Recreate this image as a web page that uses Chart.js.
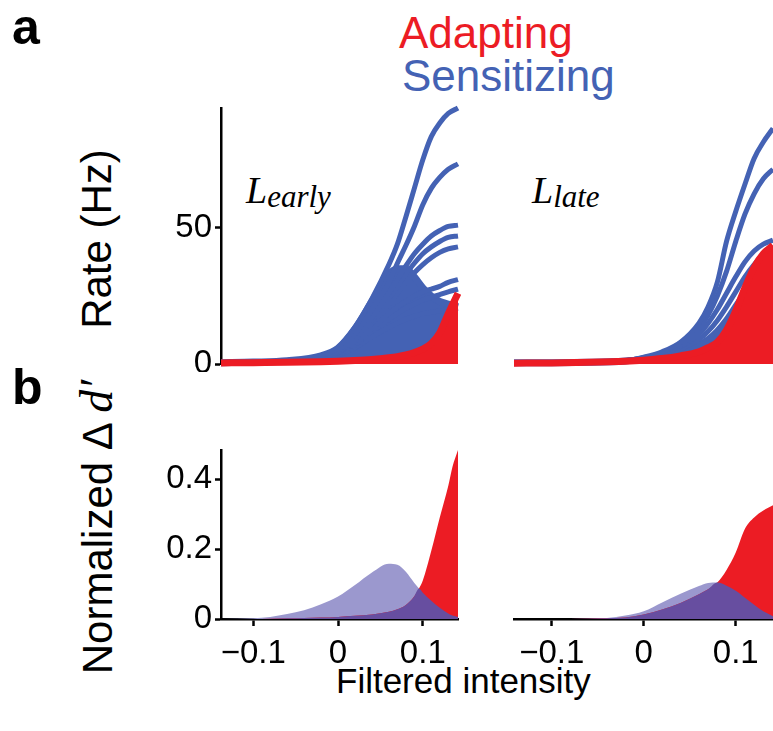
<!DOCTYPE html>
<html>
<head>
<meta charset="utf-8">
<script src="https://cdn.jsdelivr.net/npm/chart.js@4.4.1/dist/chart.umd.min.js"></script>
<style>
  html, body { margin: 0; padding: 0; background: #fff; }
  body { width: 773px; height: 731px; overflow: hidden; position: relative; font-family: 'Liberation Sans', Arial, sans-serif; }
  canvas { position: absolute; }
  .txt { position: absolute; white-space: nowrap; line-height: 1; }
  .rot { position: absolute; white-space: nowrap; line-height: 1; font-size: 42px; transform: translate(-50%, -50%) rotate(-90deg); }
  .serif { font-family: 'Liberation Serif', 'Times New Roman', serif; font-style: italic; }
</style>
</head>
<body>
<div class="txt" style="left:12px;top:2px;font-size:50px;font-weight:bold">a</div>
<div class="txt" style="left:12px;top:362px;font-size:50px;font-weight:bold">b</div>
<div class="txt" style="left:399px;top:11px;font-size:44px;color:#ec1c24">Adapting</div>
<div class="txt" style="left:402px;top:54px;font-size:44px;color:#4462b4">Sensitizing</div>
<div class="rot" style="left:97px;top:239px">Rate (Hz)</div>
<div class="rot" style="left:97px;top:527px">Normalized Δ <span class="serif" style="font-size:46px">d′</span></div>
<div class="txt serif" style="left:246px;top:171px;font-size:38px">L<span style="font-size:31px;position:relative;top:4px">early</span></div>
<div class="txt serif" style="left:532px;top:171px;font-size:38px">L<span style="font-size:31px;position:relative;top:4px">late</span></div>
<div class="txt" style="left:336px;top:663px;font-size:35px">Filtered intensity</div>

<canvas id="earlyRate" width="314" height="274" style="left:150px;top:98px"></canvas>
<canvas id="lateRate" width="271" height="274" style="left:508px;top:98px"></canvas>
<canvas id="earlyDprime" width="314" height="229" style="left:150px;top:440px"></canvas>
<canvas id="lateDprime" width="271" height="229" style="left:508px;top:440px"></canvas>

<script>
// ---- data ----
// x = filtered intensity, y = rate (Hz) or normalized delta d'

// panel a, L early
const xEarly = [-0.138, -0.1, -0.06, -0.02, 0, 0.02, 0.04, 0.06, 0.07, 0.08, 0.09, 0.1, 0.11, 0.12, 0.13, 0.1415];
const earlyBlue = [
  [0.5, 0.7, 1.2, 3, 6, 13.5, 24, 36.5, 44, 54, 64.5, 75, 83.5, 88.5, 92, 94],
  [0.5, 0.6, 1, 2.5, 5, 11, 20, 30, 37, 43.5, 50.5, 58.5, 64.5, 68.5, 71.5, 73.5],
  [0.5, 0.6, 1, 2.3, 4.5, 9.5, 17, 26, 31, 36, 40.5, 44, 47, 49, 50.5, 51],
  [0.5, 0.6, 0.9, 2.2, 4.2, 9, 16, 24, 28.5, 33, 37, 40.5, 43, 45, 46.5, 47],
  [0.5, 0.6, 0.9, 2.1, 4, 8.5, 15, 22, 26, 30, 33.5, 36.5, 39, 41, 42.3, 43],
  [0.5, 0.6, 0.9, 2, 3.5, 7.5, 13, 18.5, 21, 23, 25, 26.5, 27.5, 28.5, 30, 31],
  [0.5, 0.6, 0.8, 1.9, 3.3, 7, 12, 16.5, 18.5, 20.5, 22, 23.5, 24.5, 25.5, 26.5, 27.5],
  [0.5, 0.5, 0.8, 1.8, 3, 6, 10, 13.5, 15, 16.5, 17.5, 18.5, 19, 19.5, 20, 20.5]
];
// the solid blue band where the many sensitizing curves overlap
const earlyBlueMass = [0.5, 0.7, 1.2, 3, 5.8, 13, 23, 33, 35, 35, 32, 28, 25, 23, 22, 21];
const earlyRedTop = [0.4, 0.5, 0.6, 0.8, 1, 1.3, 1.7, 2.3, 2.7, 3.3, 4.2, 5.5, 7.5, 11.5, 18.5, 26];

// panel a, L late
const xLate = [-0.141, -0.1, -0.06, -0.02, 0, 0.02, 0.04, 0.06, 0.07, 0.08, 0.09, 0.1, 0.11, 0.12, 0.13, 0.1405];
const lateBlue = [
  [0.5, 0.5, 0.6, 1.2, 2.5, 4.5, 8, 15, 21, 30, 45, 56, 66, 75.5, 81.5, 86.5],
  [0.5, 0.5, 0.6, 1.2, 2.3, 4, 7, 13, 18, 25, 34, 45, 55, 62.5, 68, 71.5],
  [0.5, 0.5, 0.7, 1.3, 2.2, 3.8, 6.5, 11, 15, 20, 26, 32, 37.5, 41.5, 44, 45.5],
  [0.5, 0.5, 0.6, 1.2, 2, 3.3, 5.5, 9, 12, 16, 21, 26.5, 32, 36.5, 40, 42]
];
const lateBlueMass = [0.5, 0.5, 0.6, 1.1, 1.8, 2.8, 4.5, 7, 9, 12, 16, 21, 26, 31, 35, 38];
const lateRedTop = [0.3, 0.4, 0.6, 1, 1.4, 2, 3, 4.5, 6, 8, 12.5, 19.5, 28, 35.5, 40.5, 43.5];

// panel b, L early
const xEarlyB = [-0.138, -0.1, -0.08, -0.06, -0.04, -0.02, 0, 0.02, 0.04, 0.06, 0.07, 0.08, 0.09, 0.0955, 0.1, 0.11, 0.12, 0.13, 0.135, 0.1415];
const earlySens = [0, 0.002, 0.006, 0.014, 0.025, 0.042, 0.064, 0.097, 0.133, 0.158, 0.155, 0.135, 0.103, 0.087, 0.075, 0.052, 0.032, 0.016, 0.01, 0.006];
const earlyAdapt = [0, 0, 0.001, 0.002, 0.003, 0.004, 0.006, 0.009, 0.013, 0.021, 0.028, 0.04, 0.065, 0.087, 0.11, 0.195, 0.29, 0.38, 0.435, 0.483];
const earlyBoth = [0, 0, 0.001, 0.002, 0.003, 0.004, 0.006, 0.009, 0.013, 0.021, 0.028, 0.04, 0.065, 0.087, 0.075, 0.052, 0.032, 0.016, 0.01, 0.006];

// panel b, L late
const xLateB = [-0.141, -0.1, -0.06, -0.04, -0.02, 0, 0.02, 0.04, 0.06, 0.07, 0.08, 0.09, 0.1, 0.11, 0.12, 0.13, 0.1405];
const lateSens = [0, 0, 0.001, 0.003, 0.01, 0.022, 0.047, 0.072, 0.094, 0.103, 0.104, 0.095, 0.081, 0.061, 0.041, 0.022, 0.008];
const lateAdapt = [0, 0, 0.001, 0.002, 0.004, 0.013, 0.027, 0.046, 0.071, 0.085, 0.104, 0.14, 0.19, 0.258, 0.29, 0.31, 0.325];
const lateBoth = [0, 0, 0.001, 0.002, 0.004, 0.013, 0.027, 0.046, 0.071, 0.085, 0.104, 0.095, 0.081, 0.061, 0.041, 0.022, 0.008];

// ticks
const rateTicks = [0, 50];
const rateTickLabels = ['0', '50'];
const dprimeTicks = [0, 0.2, 0.4];
const dprimeTickLabels = ['0', '0.2', '0.4'];
const intensityTicks = [-0.1, 0, 0.1];
const intensityTickLabels = ['\u22120.1', '0', '0.1'];

// ---- styling ----
const BLUE = '#4462b4';
const RED = '#ec1c24';
const LAVENDER = '#9b98ce';
const PURPLE = '#674ea0';

Chart.defaults.font.family = "'Liberation Sans', Arial, sans-serif";
Chart.defaults.color = '#000';

function pts(xs, ys) {
    return xs.map((x, i) => ({x: x, y: ys[i]}));
}

function rateLine(xs, ys, color, order, filled) {
    return {
        data: pts(xs, ys),
        borderColor: color,
        backgroundColor: color,
        borderWidth: filled ? 7 : 5,
        pointRadius: 0,
        cubicInterpolationMode: 'monotone',
        fill: filled ? 'origin' : false,
        clip: false,
        order: order
    };
}

function area(xs, ys, color, order) {
    return {
        data: pts(xs, ys),
        borderWidth: 0,
        borderColor: color,
        backgroundColor: color,
        pointRadius: 0,
        cubicInterpolationMode: 'monotone',
        fill: 'origin',
        order: order
    };
}

// y axis with fixed width so the plot areas line up (hidden ones take no room)
function yAxis(show, max, ticks, labels) {
    return {
        type: 'linear', display: show, min: 0, max: max,
        afterFit: s => {
            if (show) s.width = 71;
            s.paddingTop = 0;
            s.paddingBottom = 0;
        },
        afterBuildTicks: s => { s.ticks = ticks.map(v => ({value: v})); },
        ticks: { callback: (v, i) => labels[i], font: {size: 33}, padding: 3, autoSkip: false },
        grid: { drawOnChartArea: false, tickLength: 6, tickColor: '#000', tickWidth: 2.5 },
        border: { display: true, color: '#000', width: 2.5 }
    };
}

function xAxis(show, min, max) {
    return {
        type: 'linear', display: show, min: min, max: max,
        afterFit: s => {
            if (show) s.height = 50;
            s.paddingLeft = 0;
            s.paddingRight = 0;
        },
        afterBuildTicks: s => { s.ticks = intensityTicks.map(v => ({value: v})); },
        ticks: { callback: (v, i) => intensityTickLabels[i], font: {size: 33}, padding: 8, maxRotation: 0, autoSkip: false },
        grid: { drawOnChartArea: false, tickLength: 7, tickColor: '#000', tickWidth: 2.5 },
        border: { display: true, color: '#000', width: 2.5 }
    };
}

function makeChart(id, datasets, scales, padding) {
    return new Chart(document.getElementById(id), {
        type: 'line',
        data: { datasets: datasets },
        options: {
            responsive: false,
            animation: false,
            events: [],
            devicePixelRatio: 1,
            layout: { padding: padding },
            plugins: { legend: { display: false }, tooltip: { enabled: false } },
            scales: scales
        }
    });
}

/**********************************************************************************
 * PANEL a
 *********************************************************************************/

let earlySets = earlyBlue.map(ys => rateLine(xEarly, ys, BLUE, 1, false));
earlySets.push(rateLine(xEarly, earlyBlueMass, BLUE, 1, true));
earlySets.push(rateLine(xEarly, earlyRedTop, RED, 0, true));
makeChart('earlyRate', earlySets,
    { x: xAxis(false, -0.138, 0.1415), y: yAxis(true, 94, rateTicks, rateTickLabels) },
    { left: 0, right: 6, top: 10, bottom: 8 });

let lateSets = lateBlue.map(ys => rateLine(xLate, ys, BLUE, 1, false));
lateSets.push(rateLine(xLate, lateBlueMass, BLUE, 1, true));
lateSets.push(rateLine(xLate, lateRedTop, RED, 0, true));
makeChart('lateRate', lateSets,
    { x: xAxis(false, -0.141, 0.1405), y: yAxis(false, 94, rateTicks, rateTickLabels) },
    { left: 6, right: 6, top: 10, bottom: 8 });

/**********************************************************************************
 * PANEL b
 *********************************************************************************/

makeChart('earlyDprime', [
        area(xEarlyB, earlyBoth, PURPLE, 0),
        area(xEarlyB, earlyAdapt, RED, 1),
        area(xEarlyB, earlySens, LAVENDER, 2)
    ],
    { x: xAxis(true, -0.138, 0.1415), y: yAxis(true, 0.483, dprimeTicks, dprimeTickLabels) },
    { left: 0, right: 6, top: 10, bottom: 0 });

makeChart('lateDprime', [
        area(xLateB, lateBoth, PURPLE, 0),
        area(xLateB, lateAdapt, RED, 1),
        area(xLateB, lateSens, LAVENDER, 2)
    ],
    { x: xAxis(true, -0.141, 0.1405), y: yAxis(false, 0.483, dprimeTicks, dprimeTickLabels) },
    { left: 6, right: 6, top: 10, bottom: 0 });
</script>
</body>
</html>
